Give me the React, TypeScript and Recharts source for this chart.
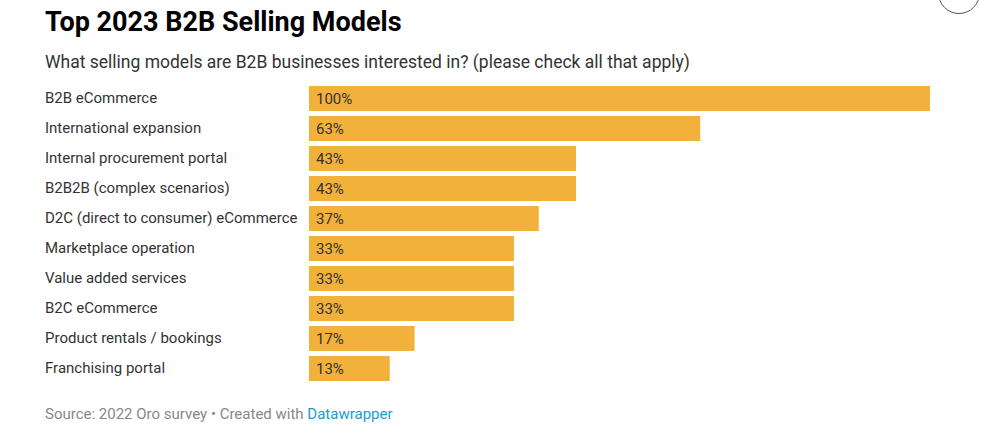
import React from "react"
import { BarChart, Bar, XAxis, YAxis, LabelList } from "recharts"

const categories = [
  "B2B eCommerce",
  "International expansion",
  "Internal procurement portal",
  "B2B2B (complex scenarios)",
  "D2C (direct to consumer) eCommerce",
  "Marketplace operation",
  "Value added services",
  "B2C eCommerce",
  "Product rentals / bookings",
  "Franchising portal",
]

const shares = [100, 63, 43, 43, 37, 33, 33, 33, 17, 13]

const data = categories.map((name, i) => ({ name, value: shares[i] }))

const FONT = "Roboto, 'Noto Sans', sans-serif"

function CategoryTick(props: any) {
  const { y, payload } = props
  return (
    <text x={45} y={y} dy={5} textAnchor="start" fill="#333" fontSize={15} fontFamily={FONT}>
      {payload.value}
    </text>
  )
}

export default function App() {
  return (
    <div style={{ position: "relative", width: 988, height: 440, background: "#fff", fontFamily: FONT }}>
      <style>{`body{margin:0}`}</style>
      <div
        style={{
          position: "absolute",
          left: 938,
          top: -28,
          width: 40,
          height: 40,
          borderRadius: "50%",
          border: "1px solid #555",
        }}
      />
      <div style={{ position: "absolute", left: 45, top: 6, fontSize: 27, fontWeight: 700, color: "#000", whiteSpace: "nowrap" }}>
        Top 2023 B2B Selling Models
      </div>
      <div style={{ position: "absolute", left: 45, top: 52, fontSize: 17.5, color: "#333", whiteSpace: "nowrap" }}>
        What selling models are B2B businesses interested in? (please check all that apply)
      </div>
      <div style={{ position: "absolute", top: 0, left: 0 }}>
        <BarChart
          width={988}
          height={440}
          data={data}
          layout="vertical"
          margin={{ top: 83, right: 58, bottom: 57, left: 45 }}
        >
          <XAxis type="number" domain={[0, 100]} hide />
          <YAxis
            type="category"
            dataKey="name"
            width={264}
            axisLine={false}
            tickLine={false}
            tick={<CategoryTick />}
            interval={0}
          />
          <Bar dataKey="value" fill="#F2B13B" barSize={25} isAnimationActive={false}>
            <LabelList
              dataKey="value"
              position="insideLeft"
              offset={7}
              formatter={(v: any) => `${v}%`}
              fill="#333"
              fontSize={15}
              fontFamily={FONT}
            />
          </Bar>
        </BarChart>
      </div>
      <div style={{ position: "absolute", left: 45, top: 405, fontSize: 15, color: "#888", whiteSpace: "nowrap" }}>
        Source: 2022 Oro survey • Created with <span style={{ color: "#1d9bd0" }}>Datawrapper</span>
      </div>
    </div>
  )
}
